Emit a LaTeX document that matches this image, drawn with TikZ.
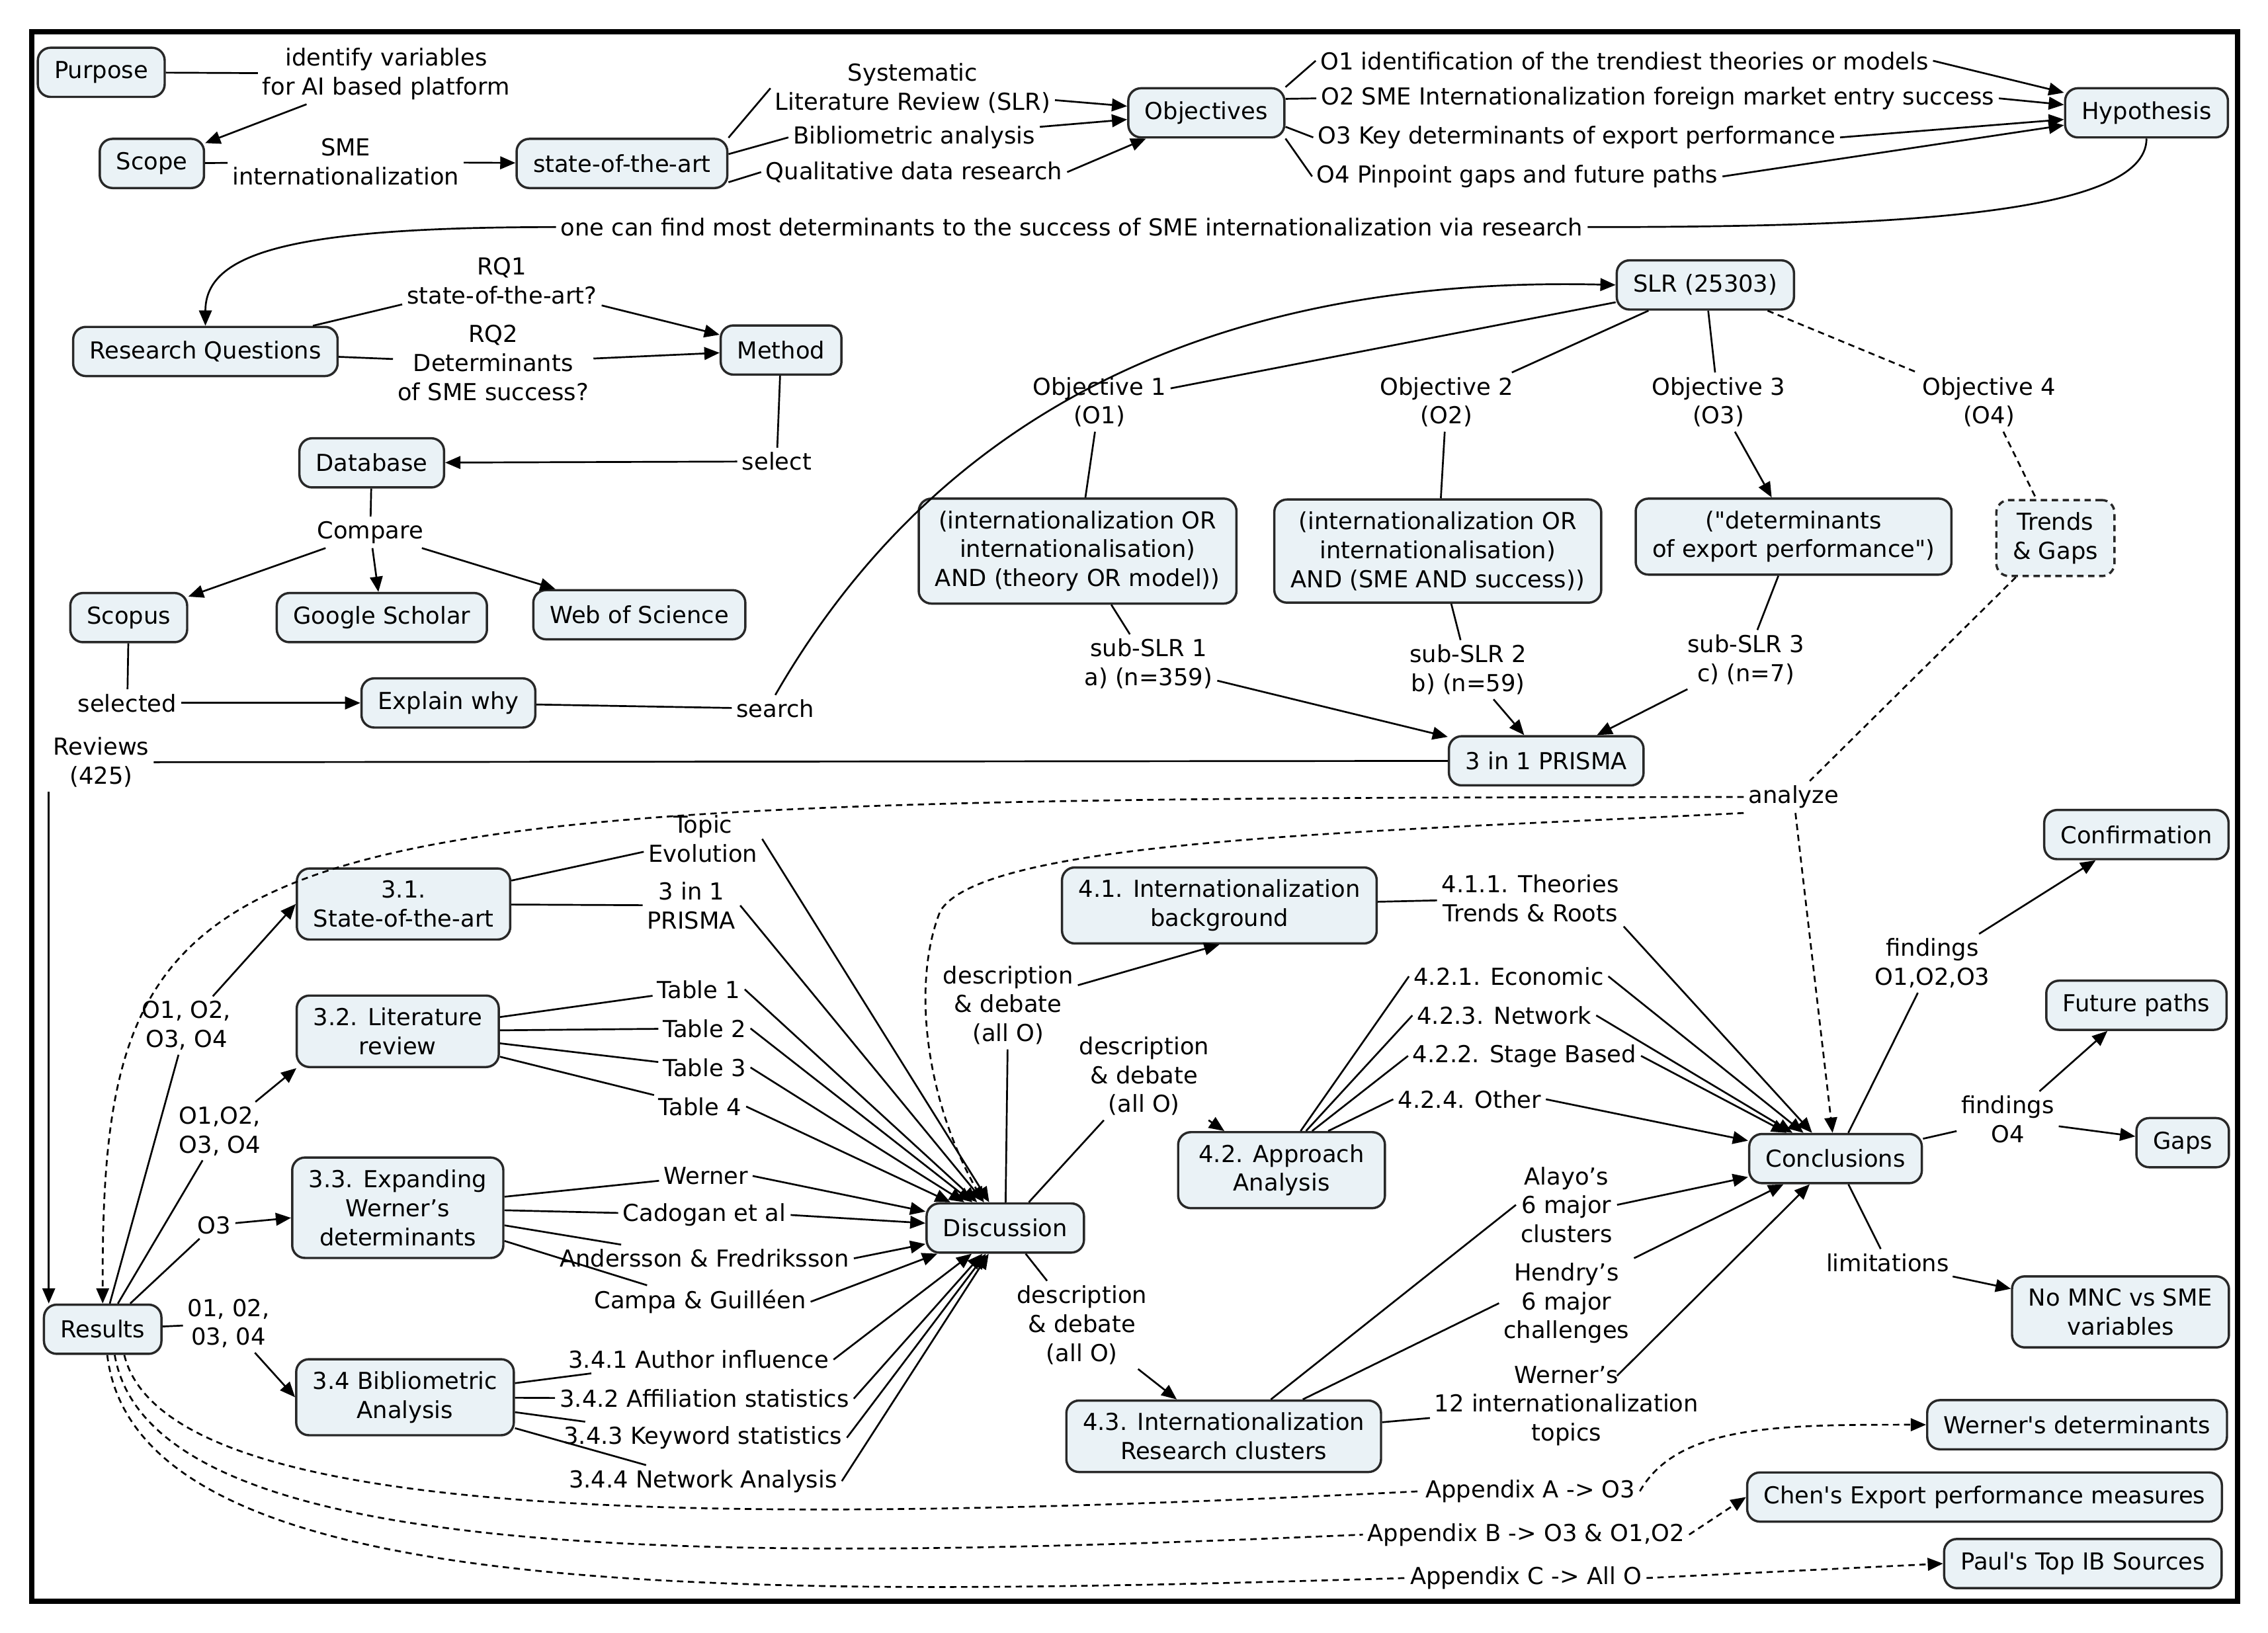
\documentclass[tikz,border=0pt]{standalone}
\usepackage{fontspec}
\setmainfont{DejaVu Sans}
\usetikzlibrary{arrows.meta,calc}

\definecolor{mapfill}{RGB}{234,242,246}
\definecolor{mapline}{RGB}{40,40,40}
\tikzset{
  concept/.style={draw=mapline,line width=0.9pt,fill=mapfill,rounded corners=5pt,
    align=center,inner xsep=6.5pt,inner ysep=4.8pt,minimum height=0.68cm},
  link/.style={align=center,inner sep=1.5pt},
  arr/.style={-{Triangle[length=6pt,width=5pt]}},
  dsh/.style={dash pattern=on 2.5pt off 1.8pt},
}

\begin{document}
\begin{tikzpicture}[x=0.02cm,y=-0.02cm,line width=0.7pt,font=\fontsize{9.2}{11.4}\selectfont]
  \useasboundingbox (0,0) rectangle (1568,1129);
  \draw[line width=2.2pt] (22,22) rectangle (1547,1107);

  % concepts
  \node[concept] (purpose) at (70,50) {Purpose};
  \node[concept] (scope) at (105,113) {Scope};
  \node[concept] (sota) at (430,113) {state-of-the-art};
  \node[concept] (obj) at (834,78) {Objectives};
  \node[concept] (hyp) at (1484,78) {Hypothesis};
  \node[concept] (rq) at (142,243) {Research Questions};
  \node[concept] (method) at (540,242) {Method};
  \node[concept] (slr) at (1179,197) {SLR (25303)};
  \node[concept] (db) at (257,320) {Database};
  \node[concept] (scopus) at (89,427) {Scopus};
  \node[concept] (gs) at (264,427) {Google Scholar};
  \node[concept] (wos) at (442,425) {Web of Science};
  \node[concept] (why) at (310,486) {Explain why};
  \node[concept] (q1) at (745,381) {(internationalization OR\\internationalisation)\\AND (theory OR model))};
  \node[concept] (q2) at (994,381) {(internationalization OR\\internationalisation)\\AND (SME AND success))};
  \node[concept] (q3) at (1240,371) {(\textquotedbl determinants\\of export performance\textquotedbl)};
  \node[concept,dsh] (trends) at (1421,372) {Trends\\\& Gaps};
  \node[concept] (prisma) at (1069,526) {3 in 1 PRISMA};
  \node[concept] (results) at (71,919) {Results};
  \node[concept] (s31) at (279,625) {3.1.\\State-of-the-art};
  \node[concept] (s32) at (275,713) {3.2. Literature\\review};
  \node[concept] (s33) at (275,835) {3.3. Expanding\\Werner’s\\determinants};
  \node[concept] (s34) at (280,966) {3.4 Bibliometric\\Analysis};
  \node[concept] (disc) at (695,849) {Discussion};
  \node[concept] (s41) at (843,626) {4.1. Internationalization\\background};
  \node[concept,minimum width=2.86cm] (s42) at (886,809) {4.2. Approach\\Analysis};
  \node[concept] (s43) at (846,993) {4.3. Internationalization\\Research clusters};
  \node[concept] (concl) at (1269,801) {Conclusions};
  \node[concept] (confirm) at (1477,577) {Confirmation};
  \node[concept] (future) at (1477,695) {Future paths};
  \node[concept] (gaps) at (1509,790) {Gaps};
  \node[concept] (nomnc) at (1466,907) {No MNC vs SME\\variables};
  \node[concept] (wdet) at (1436,985) {Werner\textquotesingle s determinants};
  \node[concept] (chen) at (1372,1035) {Chen\textquotesingle s Export performance measures};
  \node[concept] (paul) at (1440,1081) {Paul\textquotesingle s Top IB Sources};

  % linking phrases
  \node[link] (ident) at (267,51) {identify variables\\for AI based platform};
  \node[link] (smeint) at (239,112) {SME\\internationalization};
  \node[link] (slrm) at (631,61) {Systematic\\Literature Review (SLR)};
  \node[link] (biblio) at (632,95) {Bibliometric analysis};
  \node[link] (quali) at (632,119) {Qualitative data research};
  \node[link] (o1) at (1123,42) {O1 identification of the trendiest theories or models};
  \node[link] (o2) at (1146,68) {O2 SME Internationalization foreign market entry success};
  \node[link] (o3) at (1090,95) {O3 Key determinants of export performance};
  \node[link] (o4) at (1049,122) {O4 Pinpoint gaps and future paths};
  \node[link] (find) at (741,157) {one can find most determinants to the success of SME internationalization via research};
  \node[link] (rq1) at (347,194) {RQ1\\state-of-the-art?};
  \node[link] (rq2) at (341,251) {RQ2\\Determinants\\of SME success?};
  \node[link] (select) at (537,319) {select};
  \node[link] (compare) at (256,368) {Compare};
  \node[link] (selected) at (88,486) {selected};
  \node[link] (search) at (536,490) {search};
  \node[link] (ob1) at (760,278) {Objective 1\\(O1)};
  \node[link] (ob2) at (1000,278) {Objective 2\\(O2)};
  \node[link] (ob3) at (1188,278) {Objective 3\\(O3)};
  \node[link] (ob4) at (1375,278) {Objective 4\\(O4)};
  \node[link] (sub1) at (794,459) {sub-SLR 1\\a) (n=359)};
  \node[link] (sub2) at (1015,463) {sub-SLR 2\\b) (n=59)};
  \node[link] (sub3) at (1207,456) {sub-SLR 3\\c) (n=7)};
  \node[link] (reviews) at (70,527) {Reviews\\(425)};
  \node[link] (analyze) at (1240,551) {analyze};
  \node[link] (topic) at (486,580) {Topic\\Evolution};
  \node[link] (p31) at (478,626) {3 in 1\\PRISMA};
  \foreach \i/\x/\y in {1/483/684,2/487/711,3/487/738,4/484/765}
    \node[link] (tab\i) at (\x,\y) {Table \i};
  \node[link] (wer) at (488,813) {Werner};
  \node[link] (cad) at (487,840) {Cadogan et al};
  \node[link] (andf) at (487,870) {Andersson \& Fredriksson};
  \node[link] (campa) at (484,900) {Campa \& Guilléen};
  \node[link] (a341) at (483,940) {3.4.1 Author influence};
  \node[link] (a342) at (487,967) {3.4.2 Affiliation statistics};
  \node[link] (a343) at (486,994) {3.4.3 Keyword statistics};
  \node[link] (a344) at (486,1024) {3.4.4 Network Analysis};
  \node[link] (r1) at (129,709) {O1, O2,\\O3, O4};
  \node[link] (r2) at (152,782) {O1,O2,\\O3, O4};
  \node[link] (r3) at (148,847) {O3};
  \node[link] (r4) at (158,915) {01, 02,\\03, 04};
  \node[link] (d1) at (697,695) {description\\\& debate\\(all O)};
  \node[link] (d2) at (791,744) {description\\\& debate\\(all O)};
  \node[link] (d3) at (748,916) {description\\\& debate\\(all O)};
  \node[link] (t411) at (1058,621) {4.1.1. Theories\\Trends \& Roots};
  \node[link] (e421) at (1043,675) {4.2.1. Economic};
  \node[link] (n423) at (1040,702) {4.2.3. Network};
  \node[link] (s422) at (1054,730) {4.2.2. Stage Based};
  \node[link] (o424) at (1016,760) {4.2.4. Other};
  \node[link] (alayo) at (1083,833) {Alayo’s\\6 major\\clusters};
  \node[link] (hendry) at (1083,901) {Hendry’s\\6 major\\challenges};
  \node[link] (wern12) at (1083,972) {Werner’s\\12 internationalization\\topics};
  \node[link] (f1) at (1336,666) {findings\\O1,O2,O3};
  \node[link] (f4) at (1388,774) {findings\\O4};
  \node[link] (limit) at (1305,873) {limitations};
  \node[link] (appa) at (1058,1031) {Appendix A -> O3};
  \node[link] (appb) at (1055,1061) {Appendix B -> O3 \& O1,O2};
  \node[link] (appc) at (1055,1091) {Appendix C -> All O};

  % connections
  \draw (purpose) -- (ident);
  \draw[arr] (ident) -- (scope);
  \draw (scope) -- (smeint);
  \draw[arr] (smeint) -- (sota);
  \draw (sota.north east) -- (slrm.west);
  \draw (sota.5) -- (biblio.west);
  \draw (sota.-10) -- (quali.west);
  \draw[arr] (slrm) -- (obj);
  \draw[arr] (biblio) -- (obj);
  \draw[arr] (quali.east) -- (obj);
  \draw (obj.north east) -- (o1.west);
  \draw (obj.10) -- (o2.west);
  \draw (obj.-10) -- (o3.west);
  \draw (obj.south east) -- (o4.west);
  \foreach \n in {o1,o2,o3,o4}
    \draw[arr] (\n.east) -- (hyp);
  \draw (hyp.south) .. controls (1484,150) and (1300,157) .. (find.east);
  \draw[arr] (find.west) .. controls (200,157) and (142,175) .. (rq.north);
  \draw (rq) -- (rq1);
  \draw[arr] (rq1) -- (method);
  \draw (rq) -- (rq2);
  \draw[arr] (rq2) -- (method);
  \draw (method) -- (select);
  \draw[arr] (select) -- (db);
  \draw (db) -- (compare);
  \foreach \n in {scopus,gs,wos}
    \draw[arr] (compare) -- (\n);
  \draw (scopus) -- (selected);
  \draw[arr] (selected) -- (why);
  \draw (why) -- (search);
  \draw[arr] (search.north) .. controls (640,300) and (820,190) .. (slr.west);

  \draw (slr) -- (ob1);
  \draw (slr) -- (ob2);
  \draw (slr) -- (ob3);
  \draw[dsh] (slr) -- (ob4);
  \draw (ob1) -- (q1);
  \draw (ob2) -- (q2);
  \draw[arr] (ob3) -- (q3);
  \draw[dsh] (ob4) -- (trends);
  \foreach \i in {1,2,3} {
    \draw (q\i) -- (sub\i);
    \draw[arr] (sub\i) -- (prisma);
  }
  \draw (prisma) -- (reviews);
  \draw[arr] (reviews.south west) -- (reviews.south west |- results.north);
  \draw[dsh] (trends) -- (analyze);
  \draw[dsh,arr] (analyze.west) .. controls (150,552) and (70,560) .. (results.north);
  \draw[dsh,arr] (analyze.south west) .. controls (950,575) and (680,580) .. (650,630)
    .. controls (630,680) and (640,760) .. (disc.130);
  \draw[dsh,arr] (analyze) -- (concl);

  \draw (results) -- (r1);
  \draw[arr] (r1) -- (s31.west);
  \draw (results) -- (r2);
  \draw[arr] (r2) -- (s32.200);
  \draw (results) -- (r3);
  \draw[arr] (r3) -- (s33);
  \draw (results) -- (r4);
  \draw[arr] (r4) -- (s34.west);

  \draw (s31) -- (topic);
  \draw (s31) -- (p31);
  \foreach \i in {1,...,4}
    \draw (s32) -- (tab\i);
  \foreach \n in {wer,cad,andf,campa}
    \draw (s33) -- (\n);
  \foreach \n in {a341,a342,a343,a344}
    \draw (s34) -- (\n);
  \foreach \n in {topic,p31,tab1,tab2,tab3,tab4,wer,cad,andf,campa,a341,a342,a343,a344}
    \draw[arr] (\n.east) -- (disc);

  \foreach \n in {d1,d2,d3}
    \draw (disc) -- (\n);
  \draw[arr] (d1) -- (s41.south);
  \draw[arr] (d2) -- (s42);
  \draw[arr] (d3) -- (s43);

  \draw (s41) -- (t411);
  \draw[arr] (t411.south east) -- (concl);
  \foreach \n/\a in {e421/64,n423/58,s422/52,o424/40} {
    \draw (s42.\a) -- (\n.west);
    \draw[arr] (\n.east) -- (concl);
  }
  \draw (s43.38) -- (alayo.west);
  \draw (s43.25) -- (hendry.west);
  \draw (s43) -- (wern12);
  \draw[arr] (alayo.east) -- (concl);
  \draw[arr] (hendry.north east) -- (concl);
  \draw[arr] ($(wern12.north)+(35,10)$) -- (concl);

  \draw (concl) -- (f1);
  \draw[arr] (f1) -- (confirm);
  \draw (concl) -- (f4);
  \draw[arr] (f4) -- (future);
  \draw[arr] (f4) -- (gaps);
  \draw (concl) -- (limit);
  \draw[arr] (limit) -- (nomnc);

  \draw[dsh] (results.-50) .. controls (115,1055) and (500,1055) .. (appa.west);
  \draw[dsh] (results.-65) .. controls (105,1085) and (500,1080) .. (appb.west);
  \draw[dsh] (results.-80) .. controls (95,1110) and (500,1105) .. (appc.west);
  \draw[dsh,arr] (appa.east) .. controls (1160,985) and (1230,985) .. (wdet.west);
  \draw[dsh,arr] (appb.east) -- (chen.west);
  \draw[dsh,arr] (appc.east) -- (paul.west);
\end{tikzpicture}
\end{document}
